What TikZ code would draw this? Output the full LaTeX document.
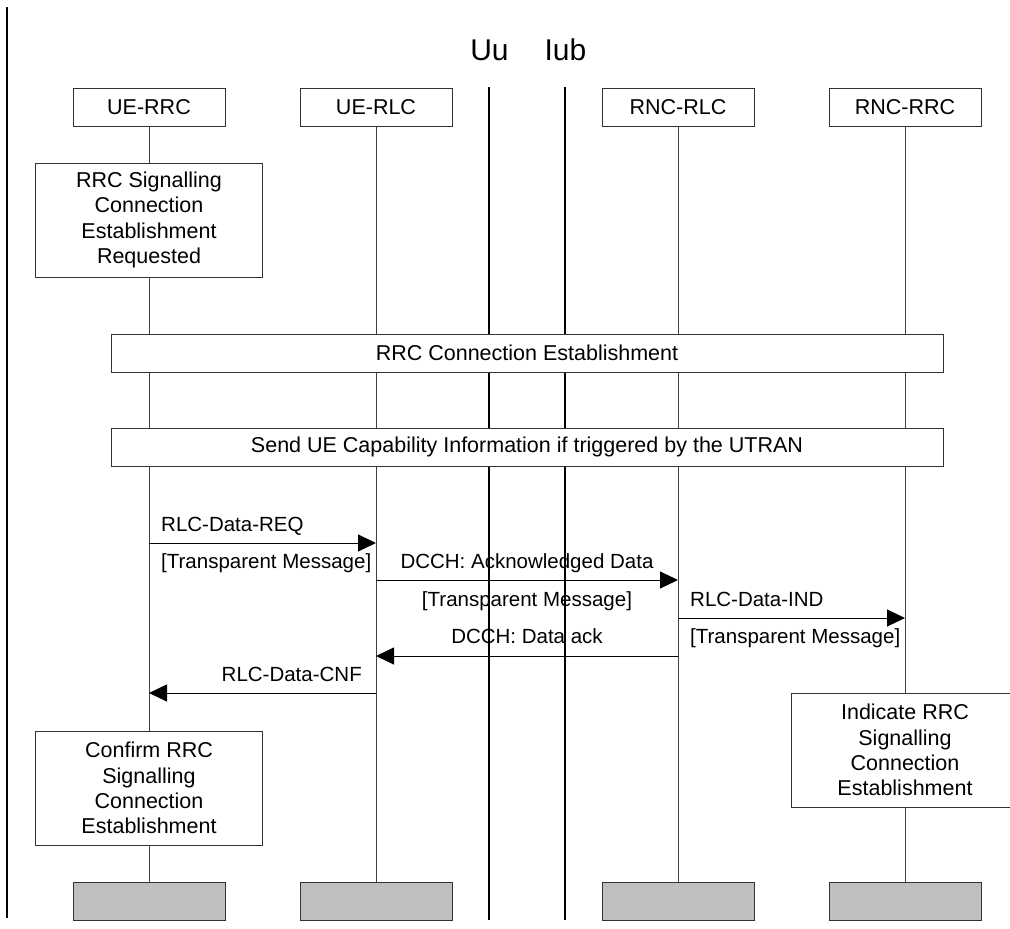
\documentclass[tikz,border=0pt]{standalone}
\usepackage{fontspec}
\setmainfont{Liberation Sans}
\usepackage{tikz}
\usetikzlibrary{arrows.meta,shapes,backgrounds,positioning}

\begin{document}
\begin{tikzpicture}[x=1pt, y=-1pt,
  every node/.style={font=\fontsize{20.5}{25.3}\selectfont, inner sep=0pt},
  entity/.style={rectangle, draw=black!80, line width=1pt, fill=white,
                 font=\fontsize{21.5}{25.3}\selectfont,
                 minimum width=152pt, minimum height=38pt},
  endbox/.style={entity, fill=black!25},
  actbox/.style={rectangle, draw=black!80, line width=1pt, fill=white, align=center,
                 font=\fontsize{21.5}{25.3}\selectfont,
                 minimum width=227pt, minimum height=114pt},
  bar/.style={rectangle, draw=black!80, line width=1pt, fill=white,
              font=\fontsize{21.5}{25.3}\selectfont,
              minimum width=832pt, minimum height=38pt},
  ttl/.style={anchor=base, font=\fontsize{30}{34}\selectfont},
  lbl/.style={anchor=base west},
  clbl/.style={anchor=base},
  rlbl/.style={anchor=base east},
  lifeline/.style={draw=black!75, line width=1pt},
  iface/.style={line width=2.5pt},
  msg/.style={line width=1pt, -{Triangle[length=18pt,width=17pt]}}]

\useasboundingbox (0,0) rectangle (1010,929);

% heads and tails
\node (uerrc) [entity] at (149,107) {UE-RRC};
\node (uerlc) [entity] at (376,107) {UE-RLC};
\node (rncrlc) [entity] at (678,107) {RNC-RLC};
\node (rncrrc) [entity] at (905,107) {RNC-RRC};

\node (uerrcend) [endbox] at (149,901) {};
\node (uerlcend) [endbox] at (376,901) {};
\node (rncrlcend) [endbox] at (678,901) {};
\node (rncrrcend) [endbox] at (905,901) {};

% interfaces
\node (uu) [ttl] at (489.5,60) {Uu};
\node (iub) [ttl] at (565.5,60) {Iub};
\coordinate (uutop) at (489,87);
\coordinate (uubot) at (489,920);
\coordinate (iubtop) at (565,87);
\coordinate (iubbot) at (565,920);

\begin{scope}[on background layer]
\draw [lifeline] (uerrc) -- (uerrcend);
\draw [lifeline] (uerlc) -- (uerlcend);
\draw [lifeline] (rncrlc) -- (rncrlcend);
\draw [lifeline] (rncrrc) -- (rncrrcend);
\draw [iface] (uutop) -- (uubot);
\draw [iface] (iubtop) -- (iubbot);
\end{scope}

\node (estreq) [actbox] at (149,220) {RRC Signalling\\Connection\\Establishment\\Requested};
\node (connbar) [bar] at (527,353) {RRC Connection Establishment};
\node (capbar) [bar] at (527,447) {Send UE Capability Information if triggered by the UTRAN};
\node (estind) [actbox] at (905,750) {Indicate RRC\\Signalling\\Connection\\Establishment};
\node (estcnf) [actbox] at (149,788) {Confirm RRC\\Signalling\\Connection\\Establishment};

% messages
\coordinate (r1) at (uerrc |- 0,543);
\coordinate (r2) at (uerlc |- 0,543);
\coordinate (a1) at (uerlc |- 0,580);
\coordinate (a2) at (rncrlc |- 0,580);
\coordinate (i1) at (rncrlc |- 0,618);
\coordinate (i2) at (rncrrc |- 0,618);
\coordinate (k1) at (rncrlc |- 0,656);
\coordinate (k2) at (uerlc |- 0,656);
\coordinate (c1) at (uerlc |- 0,693);
\coordinate (c2) at (uerrc |- 0,693);

\draw [msg] (r1) -- (r2);
\draw [msg] (a1) -- (a2);
\draw [msg] (i1) -- (i2);
\draw [msg] (k1) -- (k2);
\draw [msg] (c1) -- (c2);

\node (reqtxt) [lbl] at (161,531) {RLC-Data-REQ};
\node (reqtm) [lbl] at (161,568.5) {[Transparent Message]};
\node (acktxt) [clbl] at (527,568.5) {DCCH: Acknowledged Data};
\node (acktm) [clbl] at (527,606) {[Transparent Message]};
\node (indtxt) [lbl] at (690,606) {RLC-Data-IND};
\node (indtm) [lbl] at (690,643.5) {[Transparent Message]};
\node (dacktxt) [clbl] at (527,643.5) {DCCH: Data ack};
\node (cnftxt) [rlbl] at (362,681) {RLC-Data-CNF};

\coordinate (edgetop) at (7,7);
\coordinate (edgebot) at (7,918);
\draw [line width=2pt] (edgetop) -- (edgebot);

\end{tikzpicture}
\end{document}
